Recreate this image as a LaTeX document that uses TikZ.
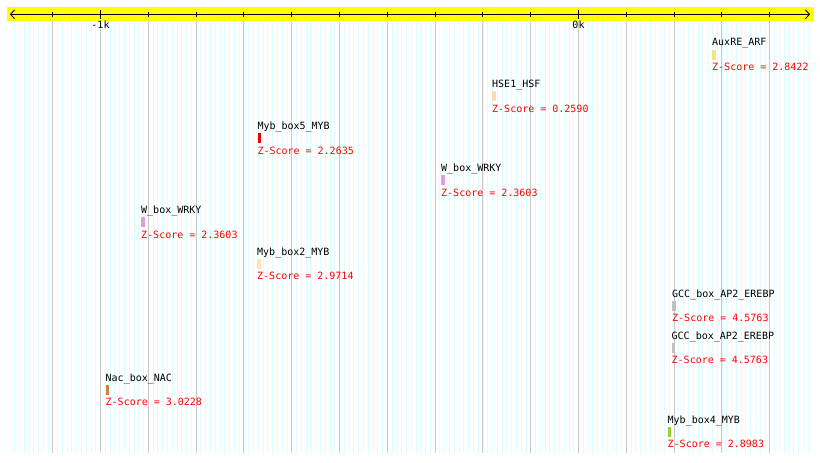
\documentclass[tikz,border=0pt]{standalone}
\usepackage{fontspec}
\setmonofont{DejaVu Sans Mono}
\usetikzlibrary{arrows.meta}
\definecolor{gridmajor}{HTML}{C8C8C8}
\definecolor{gridminor}{HTML}{DDFFFF}
\definecolor{band}{HTML}{FFFF00}
\definecolor{zred}{HTML}{FF0000}
\definecolor{cauxre}{HTML}{F0E68C}
\definecolor{chse}{HTML}{F5DEB3}
\definecolor{cmybfive}{HTML}{EE0000}
\definecolor{cwbox}{HTML}{DDA0DD}
\definecolor{cmybtwo}{HTML}{FFE4B5}
\definecolor{cgcc}{HTML}{C0C0C0}
\definecolor{cnac}{HTML}{CD853F}
\definecolor{cmybfour}{HTML}{9ACD32}
\newcommand\tfbs[6]{%
  \node[lbl] (#1-l) at (#2,#3) {#5};
  \node[tfbar,fill=#4] (#1-b) at (#2,#3+6) {};
  \node[zlbl] (#1-z) at (#2,#3+23.5) {Z-Score = #6};
}
\begin{document}
\begin{tikzpicture}[x=1pt,y=-1pt,
  lbl/.style={anchor=west,inner sep=0pt,font=\ttfamily\fontsize{10}{10}\selectfont},
  zlbl/.style={lbl,text=zred},
  tfbar/.style={anchor=north west,draw=none,inner sep=0pt,minimum width=3.5pt,minimum height=10pt},
  minorline/.style={gridminor,line width=0.8pt},
  majorline/.style={gridmajor,line width=1pt},
  axistick/.style={black,line width=0.9pt}]
\useasboundingbox (0,0) rectangle (820,463);
\fill[white] (0,0) rectangle (820,463);
% grid
\foreach \k in {-18,...,148}
  \draw[minorline] ({100.5+4.78*\k},21) -- ({100.5+4.78*\k},453);
\foreach \k in {-1,...,14}
  \draw[majorline] ({100.5+47.8*\k},21) -- ({100.5+47.8*\k},453);
% axis band
\fill[band] (7,7) rectangle (814,21);
\coordinate (axL) at (10,14.3);
\coordinate (axR) at (810,14.3);
\draw[line width=0.9pt,{Straight Barb[length=4pt,width=9pt]}-{Straight Barb[length=4pt,width=9pt]}] (axL) -- (axR);
\foreach \k in {-1,...,14}
  \draw[axistick] ({100.5+47.8*\k},12) -- ({100.5+47.8*\k},16.8);
\draw[axistick] (100.5,10) -- (100.5,18.5);
\draw[axistick] (578.5,10) -- (578.5,18.5);
\node[lbl,anchor=center] (tkm) at (100.5,24.5) {-1k};
\node[lbl,anchor=center] (tkz) at (578.5,24.5) {0k};
% features
\tfbs{auxre}{712}{43.3}{cauxre}{AuxRE\_ARF}{2.8422}
\tfbs{hse}{492}{85.2}{chse}{HSE1\_HSF}{0.2590}
\tfbs{mybfive}{257.3}{127.1}{cmybfive}{Myb\_box5\_MYB}{2.2635}
\tfbs{wboxa}{441}{169}{cwbox}{W\_box\_WRKY}{2.3603}
\tfbs{wboxb}{141}{210.9}{cwbox}{W\_box\_WRKY}{2.3603}
\tfbs{mybtwo}{257}{252.8}{cmybtwo}{Myb\_box2\_MYB}{2.9714}
\tfbs{gcca}{672}{294.7}{cgcc}{GCC\_box\_AP2\_EREBP}{4.5763}
\tfbs{gccb}{671.5}{336.6}{cgcc}{GCC\_box\_AP2\_EREBP}{4.5763}
\tfbs{nac}{105.5}{378.5}{cnac}{Nac\_box\_NAC}{3.0228}
\tfbs{mybfour}{667.5}{420.4}{cmybfour}{Myb\_box4\_MYB}{2.8983}
\end{tikzpicture}
\end{document}
